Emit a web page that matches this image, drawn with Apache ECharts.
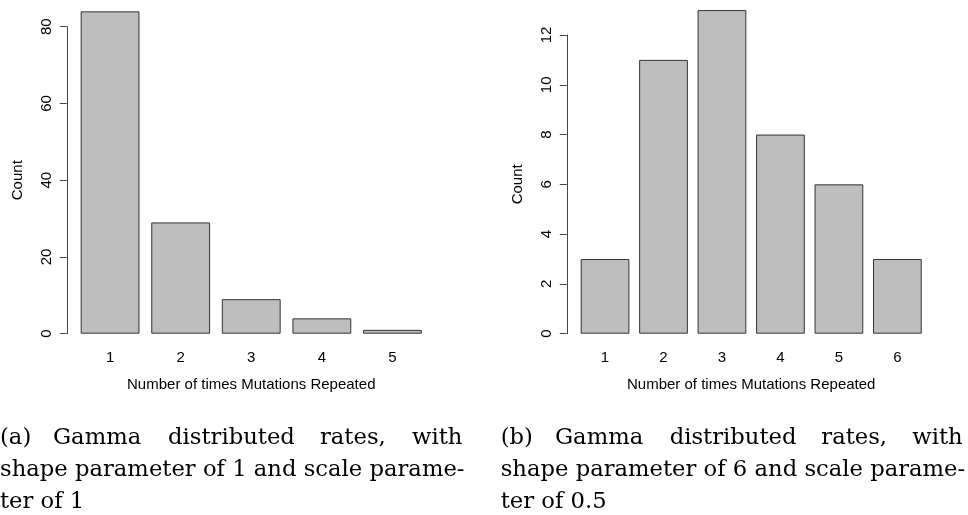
<!DOCTYPE html>
<html>
<head>
<meta charset="utf-8">
<script src="https://cdn.jsdelivr.net/npm/echarts@6/dist/echarts.min.js"></script>
<style>
html,body{margin:0;padding:0;background:#fff;}
#chart{width:968px;height:515px;}
</style>
</head>
<body>
<div id="chart"></div>
<script>
// Data
const categoriesA = ['1', '2', '3', '4', '5'];
const countsA = [84, 29, 9, 4, 1];
const categoriesB = ['1', '2', '3', '4', '5', '6'];
const countsB = [3, 11, 13, 8, 6, 3];
const yTicksA = { min: 0, max: 80, interval: 20 };
const yTicksB = { min: 0, max: 12, interval: 2 };
const xTitle = 'Number of times Mutations Repeated';
const yTitle = 'Count';
const captionA = [
  ['(a)', 'Gamma', 'distributed', 'rates,', 'with'],
  'shape parameter of 1 and scale parame-',
  'ter of 1'
];
const captionB = [
  ['(b)', 'Gamma', 'distributed', 'rates,', 'with'],
  'shape parameter of 6 and scale parame-',
  'ter of 0.5'
];

const sans = '"Liberation Sans", Arial, sans-serif';
const serif = '"DejaVu Serif", serif';
const chart = echarts.init(document.getElementById('chart'), null, { renderer: 'canvas' });

function yAxisDef(gridIndex, ticks, offset) {
  return {
    type: 'value', gridIndex: gridIndex,
    min: ticks.min, max: ticks.max, interval: ticks.interval,
    offset: offset,
    name: yTitle, nameLocation: 'middle', nameGap: 41, nameRotate: 90,
    nameTextStyle: { fontFamily: sans, fontSize: 15, color: '#000' },
    axisLine: { show: true, lineStyle: { color: '#444', width: 1 } },
    axisTick: { show: true, length: 7, lineStyle: { color: '#444', width: 1 } },
    axisLabel: { rotate: 90, margin: 12, fontFamily: sans, fontSize: 15, color: '#000' },
    splitLine: { show: false }
  };
}
function xAxisDef(gridIndex, cats) {
  return {
    type: 'category', gridIndex: gridIndex, data: cats,
    name: xTitle, nameLocation: 'middle', nameGap: 44,
    nameTextStyle: { fontFamily: sans, fontSize: 15, color: '#000' },
    axisLine: { show: false }, axisTick: { show: false },
    axisLabel: { margin: 17, fontFamily: sans, fontSize: 15, color: '#000' }
  };
}
function barDef(idx, data) {
  return {
    type: 'bar', xAxisIndex: idx, yAxisIndex: idx, data: data,
    clip: false, barCategoryGap: '16.67%',
    itemStyle: { color: '#bebebe', borderColor: '#333', borderWidth: 1 },
    animation: false, silent: true
  };
}

const capFont = '22.7px ' + serif;
function captionGraphics(lines, x0, wordX) {
  const els = [];
  const tops = [427, 458.7, 491];
  lines[0].forEach((w, i) => {
    els.push({ type: 'text', left: wordX[i], top: tops[0],
      style: { text: w, font: capFont, fill: '#000' } });
  });
  els.push({ type: 'text', left: x0, top: tops[1],
    style: { text: lines[1], font: capFont, fill: '#000' } });
  els.push({ type: 'text', left: x0, top: tops[2],
    style: { text: lines[2], font: capFont, fill: '#000' } });
  return els;
}

const option = {
  animation: false,
  backgroundColor: '#fff',
  grid: [
    { left: 74.8, top: 26.7, width: 352.9, height: 307 },
    { left: 575.8, top: 35, width: 350.8, height: 298.7 }
  ],
  xAxis: [xAxisDef(0, categoriesA), xAxisDef(1, categoriesB)],
  yAxis: [yAxisDef(0, yTicksA, 8), yAxisDef(1, yTicksB, 9)],
  series: [barDef(0, countsA), barDef(1, countsB)],
  graphic: [
    ...captionGraphics(captionA, 0, [0, 53, 168, 320, 412]),
    ...captionGraphics(captionB, 500.7, [500.7, 555, 669.7, 821.3, 912.3])
  ]
};
chart.setOption(option);
</script>
</body>
</html>
